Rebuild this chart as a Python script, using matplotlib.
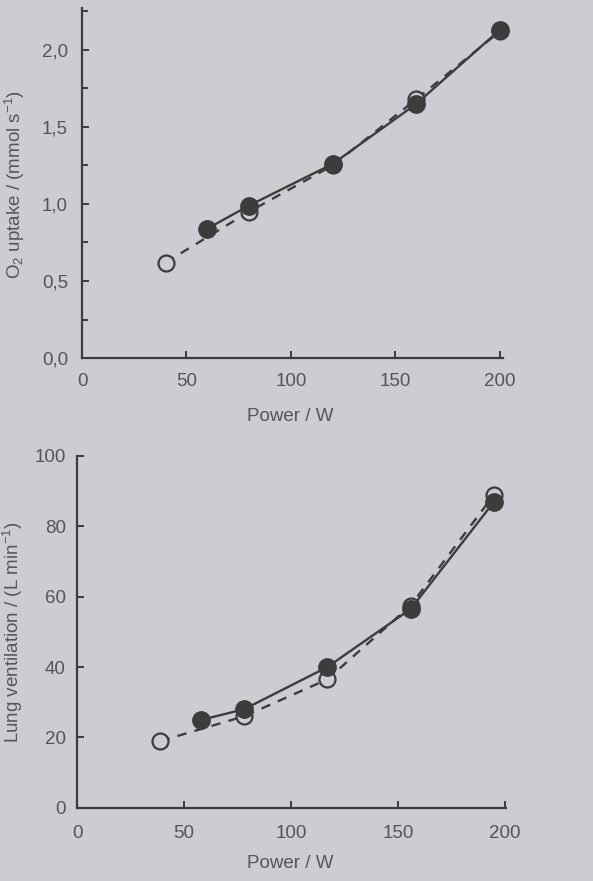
import numpy as np
import matplotlib.pyplot as plt
from matplotlib.ticker import MultipleLocator, FuncFormatter

# top panel: O2 uptake
o2_open_x = [40, 80, 120, 160, 200]
o2_open_y = [0.62, 0.95, 1.25, 1.68, 2.12]
o2_fill_x = [60, 80, 120, 160, 200]
o2_fill_y = [0.84, 0.99, 1.26, 1.65, 2.13]

# bottom panel: lung ventilation
lv_open_x = [39, 78, 117, 156, 195]
lv_open_y = [19, 26, 36.5, 57.5, 89]
lv_fill_x = [58, 78, 117, 156, 195]
lv_fill_y = [25, 28, 40, 56.5, 87]

bg = "#cfcbd3"
ink = "#3c3c3c"
txt = "#555555"

plt.rcParams['font.family'] = ['Liberation Sans', 'DejaVu Sans']
plt.rcParams['mathtext.fontset'] = 'custom'
plt.rcParams['mathtext.rm'] = 'Liberation Sans'
plt.rcParams['mathtext.it'] = 'Liberation Sans'
plt.rcParams['mathtext.default'] = 'regular'

fig = plt.figure(figsize=(5.93, 8.81), dpi=100, facecolor=bg)
ax1 = fig.add_axes([0.1383, 0.5936, 0.710, 0.397], facecolor=bg)
ax2 = fig.add_axes([0.130, 0.083, 0.723, 0.3995], facecolor=bg)


def style(ax, xpad, ypad):
    for s in ['top', 'right']:
        ax.spines[s].set_visible(False)
    for s in ['left', 'bottom']:
        ax.spines[s].set_color(ink)
        ax.spines[s].set_linewidth(1.6)
    ax.tick_params(which='both', direction='in', color=ink, width=1.4,
                   labelsize=13.5, labelcolor=txt)
    ax.tick_params(which='major', length=5)
    ax.tick_params(which='minor', length=4)
    ax.tick_params(axis='x', pad=xpad)
    ax.tick_params(axis='y', pad=ypad)


def draw(ax, xo, yo, xf, yf):
    ax.plot(xo, yo, color=ink, lw=1.7, ls=(0, (4, 3.5)), marker='o', ms=11.5,
            mfc=bg, mec=ink, mew=1.6, clip_on=False, zorder=3)
    ax.plot(xf, yf, color=ink, lw=1.7, ls='-', marker='o', ms=12.5,
            mfc=ink, mec=ink, clip_on=False, zorder=4)


style(ax1, 11, 10)
draw(ax1, o2_open_x, o2_open_y, o2_fill_x, o2_fill_y)
ax1.set_xlim(2.5, 201.5)
ax1.set_ylim(0, 2.27)
ax1.yaxis.set_major_locator(MultipleLocator(0.5))
ax1.yaxis.set_minor_locator(MultipleLocator(0.25))
ax1.yaxis.set_major_formatter(FuncFormatter(lambda v, p: f"{v:.1f}".replace('.', ',')))
ax1.set_xticks([0, 50, 100, 150, 200])
ax1.set_xticklabels(['0', '50', '100', '150', '200'])
for lab in ax1.get_xticklabels():
    lab.set_clip_on(False)
ax1.set_xlabel('Power / W', fontsize=13.5, color=txt)
ax1.set_ylabel(r'O$_2$ uptake / (mmol s$^{-1}$)', fontsize=13.5, color=txt)
ax1.xaxis.set_label_coords(0.494, -0.143)
ax1.yaxis.set_label_coords(-0.131, 0.497)

style(ax2, 12, 8)
draw(ax2, lv_open_x, lv_open_y, lv_fill_x, lv_fill_y)
ax2.set_xlim(0, 200.5)
ax2.set_ylim(0, 100)
ax2.xaxis.set_major_locator(MultipleLocator(50))
ax2.yaxis.set_major_locator(MultipleLocator(20))
ax2.set_xlabel('Power / W', fontsize=13.5, color=txt)
ax2.set_ylabel(r'Lung ventilation / (L min$^{-1}$)', fontsize=13.5, color=txt)
ax2.xaxis.set_label_coords(0.497, -0.135)
ax2.yaxis.set_label_coords(-0.121, 0.5)

fig.savefig('out.png', dpi=100, facecolor=bg)
